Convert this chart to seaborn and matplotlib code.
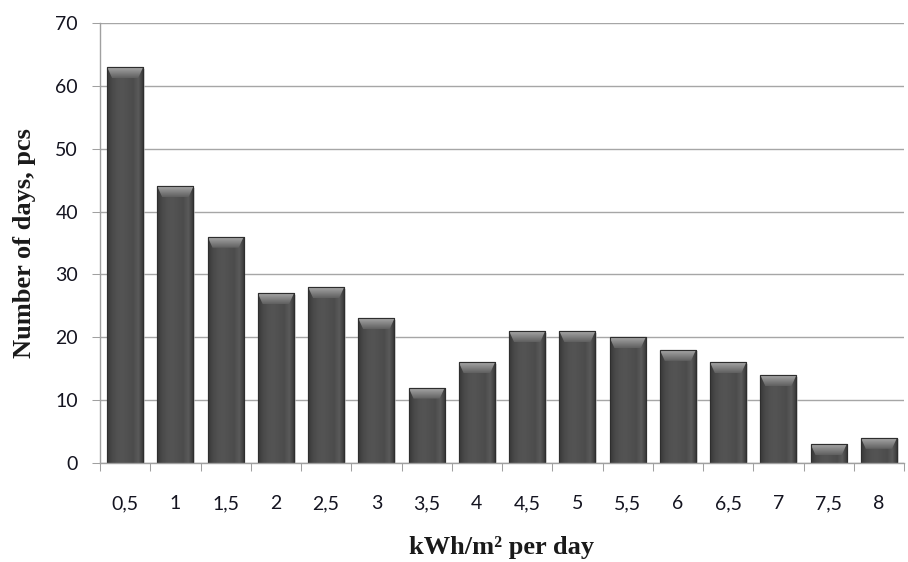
import numpy as np
import pandas as pd
import matplotlib
matplotlib.use("Agg")
import matplotlib.pyplot as plt
from matplotlib.patches import Polygon
from matplotlib.colors import LinearSegmentedColormap
import seaborn as sns

categories = ["0,5", "1", "1,5", "2", "2,5", "3", "3,5", "4", "4,5", "5",
              "5,5", "6", "6,5", "7", "7,5", "8"]
days = [63, 44, 36, 27, 28, 23, 12, 16, 21, 21, 20, 18, 16, 14, 3, 4]
y_ticks = [0, 10, 20, 30, 40, 50, 60, 70]

df = pd.DataFrame({"cat": categories, "days": days})

sns.set_theme(style="white")
plt.rcParams["font.family"] = ["Lato", "DejaVu Sans"]

fig = plt.figure(figsize=(9.08, 5.62), dpi=100)
ax = fig.add_axes([100/908, (562-463)/562, (904-100)/908, (463-23)/562])

sns.barplot(data=df, x="cat", y="days", color="#4c4c4c", width=0.72,
            edgecolor="#2e2e2e", linewidth=0.8, saturation=1, ax=ax, zorder=3)

ax.set_ylim(0, 70)
ax.set_xlim(-0.5, len(categories) - 0.5)
ax.set_yticks(y_ticks)
ax.yaxis.grid(True, color="#a6a6a6", linewidth=1.0, zorder=0)
ax.set_axisbelow(True)

grad = LinearSegmentedColormap.from_list(
    "g", ["#383838", "#4a4a4a", "#525252", "#545454", "#505050", "#4c4c4c", "#5a5a5a", "#343434"])
bevgrad = LinearSegmentedColormap.from_list("b", ["#606060", "#838383", "#a8a8a8"])
ppu_y = 440 / 70.0
for p in list(ax.patches):
    x0 = p.get_x(); w = p.get_width(); h = p.get_height()
    sh = plt.Rectangle((x0 + 0.035, 0), w, h - 0.25, facecolor="#c4c4c4",
                       edgecolor="none", zorder=2.5, alpha=0.6)
    ax.add_patch(sh)
    im = ax.imshow(np.linspace(0, 1, 64).reshape(1, -1), cmap=grad, aspect="auto",
                   extent=(x0, x0 + w, 0, h), zorder=3.1, interpolation="bilinear")
    im.set_clip_path(p)
    bh = 11 / ppu_y
    dx = 0.1
    bev = Polygon([(x0, h), (x0 + w, h), (x0 + w - dx, h - bh), (x0 + dx, h - bh)],
                  closed=True, facecolor="none", edgecolor="none", zorder=3.2)
    ax.add_patch(bev)
    imb = ax.imshow(np.linspace(0, 1, 32).reshape(-1, 1), cmap=bevgrad, aspect="auto",
                    origin="lower", extent=(x0, x0 + w, h - bh, h), zorder=3.2,
                    interpolation="bilinear")
    imb.set_clip_path(bev)
    edge = plt.Rectangle((x0, 0), w, h, facecolor="none", edgecolor="#2e2e2e",
                         linewidth=0.8, zorder=3.4)
    ax.add_patch(edge)

for s in ["top", "right"]:
    ax.spines[s].set_visible(False)
for s in ["left", "bottom"]:
    ax.spines[s].set_color("#a0a0a0")
    ax.spines[s].set_linewidth(1.0)
    ax.spines[s].set_zorder(4)

ax.set_xticks(np.arange(len(categories)))
ax.set_xticklabels(categories)
ax.set_xticks(np.arange(-0.5, len(categories)), minor=True)
ax.yaxis.set_minor_locator(matplotlib.ticker.NullLocator())
ax.tick_params(axis="x", which="major", bottom=False, length=0, pad=23,
               labelsize=14, labelcolor="#141420")
ax.tick_params(axis="x", which="minor", bottom=True, length=5.8, width=0.75,
               color="#a0a0a0", direction="out", pad=0)
ax.tick_params(axis="y", which="major", left=True, length=5.8, width=0.75, color="#a0a0a0",
               direction="out", pad=10, labelsize=14, labelcolor="#141420")

ax.set_xlabel("kWh/m² per day", fontsize=19, fontweight="bold",
              family=["Liberation Serif", "DejaVu Serif"], color="#1a1a1a", labelpad=17)
ax.set_ylabel("Number of days, pcs", fontsize=19, fontweight="bold",
              family=["Liberation Serif", "DejaVu Serif"], color="#1a1a1a", labelpad=14)

fig.savefig("out.png", dpi=100)
